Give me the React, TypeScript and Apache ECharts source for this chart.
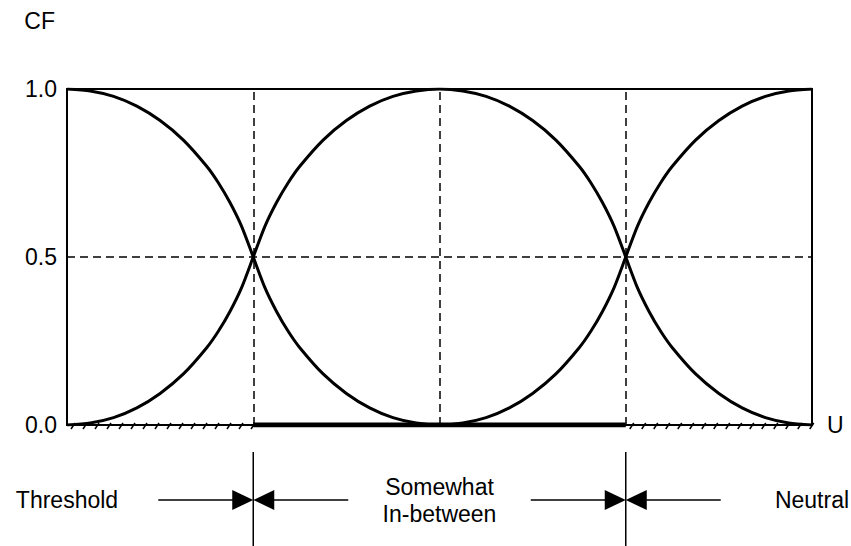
import React, { useEffect, useRef } from "react";
import * as echarts from "echarts";

// U positions (x axis, 0..4)
const uValues = [
  0, 0.125, 0.25, 0.375, 0.5, 0.625, 0.75, 0.8125, 0.875, 0.9375, 1,
  1.0625, 1.125, 1.1875, 1.25, 1.375, 1.5, 1.625, 1.75, 1.875, 2,
  2.125, 2.25, 2.375, 2.5, 2.625, 2.75, 2.8125, 2.875, 2.9375, 3,
  3.0625, 3.125, 3.1875, 3.25, 3.375, 3.5, 3.625, 3.75, 3.875, 4,
];
// CF curve starting at 1.0 (dips to 0 at the centre, rises back to 1.0)
const cfCurveA = [
  1, 0.994, 0.978, 0.949, 0.906, 0.848, 0.77, 0.721, 0.662, 0.591, 0.5,
  0.409, 0.338, 0.279, 0.23, 0.152, 0.094, 0.051, 0.022, 0.006, 0,
  0.006, 0.022, 0.051, 0.094, 0.152, 0.23, 0.279, 0.338, 0.409, 0.5,
  0.591, 0.662, 0.721, 0.77, 0.848, 0.906, 0.949, 0.978, 0.994, 1,
];
// CF curve starting at 0.0 (peaks at 1.0 at the centre)
const cfCurveB = [
  0, 0.006, 0.022, 0.051, 0.094, 0.152, 0.23, 0.279, 0.338, 0.409, 0.5,
  0.591, 0.662, 0.721, 0.77, 0.848, 0.906, 0.949, 0.978, 0.994, 1,
  0.994, 0.978, 0.949, 0.906, 0.848, 0.77, 0.721, 0.662, 0.591, 0.5,
  0.409, 0.338, 0.279, 0.23, 0.152, 0.094, 0.051, 0.022, 0.006, 0,
];
const yTicks = [0, 0.5, 1];
const dashedY = [0.5];
const dashedX = [1, 2, 3];
const neutralZone = [1, 3]; // thick bar on U axis
const hatchRanges = [
  [0, 1],
  [3, 4],
];
const zoneLabels = [
  { u: 0, text: "Threshold" },
  { u: 2, text: "Somewhat\nIn-between" },
  { u: 4, text: "Neutral" },
];
const boundaries = [1, 3];

const FONT = "'Liberation Sans', Arial, sans-serif";
const FS = 23;

export default function App() {
  const ref = useRef<HTMLDivElement>(null);
  useEffect(() => {
    if (!ref.current) return;
    const chart = echarts.init(ref.current, null, { renderer: "svg" });
    const option: any = {
      animation: false,
      backgroundColor: "#fff",
      grid: {
        left: 67,
        right: 39,
        top: 89,
        bottom: 121,
        show: true,
        borderColor: "#000",
        borderWidth: 2,
        backgroundColor: "transparent",
      },
      xAxis: {
        type: "value",
        min: 0,
        max: 4,
        interval: 1,
        name: "U",
        nameLocation: "end",
        nameGap: 15,
        nameTextStyle: { fontFamily: FONT, fontSize: FS, color: "#000", verticalAlign: "middle", padding: [0, 0, 20, 0] },
        axisLine: { show: true, lineStyle: { color: "#000", width: 2 } },
        axisTick: { show: false },
        axisLabel: { show: false },
        splitLine: { show: false },
      },
      yAxis: {
        type: "value",
        min: 0,
        max: 1,
        interval: 0.5,
        name: "CF",
        nameLocation: "end",
        nameGap: 68,
        nameTextStyle: { fontFamily: FONT, fontSize: FS, color: "#000", align: "right", verticalAlign: "middle", padding: [0, 12, 0, 0] },
        axisLine: { show: true, lineStyle: { color: "#000", width: 2 } },
        axisTick: { show: false },
        axisLabel: {
          fontFamily: FONT,
          fontSize: FS,
          color: "#000",
          margin: 10,
          formatter: (v: number) => (yTicks.includes(v) ? v.toFixed(1) : ""),
        },
        splitLine: { show: false },
      },
      series: [
        {
          type: "line",
          data: [],
          silent: true,
          markLine: {
            silent: true,
            symbol: "none",
            label: { show: false },
            lineStyle: { color: "#000", type: [8, 5], width: 1.5 },
            data: [
              ...dashedY.map((v) => ({ yAxis: v })),
              ...dashedX.map((v) => ({ xAxis: v })),
            ],
          },
        },
        {
          type: "custom",
          silent: true,
          data: hatchRanges,
          renderItem: (params: any, api: any) => {
            const s = api.coord([api.value(0), 0]);
            const e = api.coord([api.value(1), 0]);
            const children: any[] = [];
            for (let x = s[0] + 6; x <= e[0] + 1; x += 12) {
              children.push({
                type: "line",
                shape: { x1: x + 2, y1: s[1] - 2, x2: x - 2, y2: s[1] + 4 },
                style: { stroke: "#000", lineWidth: 1.5 },
              });
            }
            return { type: "group", children };
          },
        },
        {
          type: "line",
          silent: true,
          symbol: "none",
          data: neutralZone.map((u) => [u, 0]),
          lineStyle: { color: "#000", width: 5 },
        },
        {
          type: "line",
          silent: true,
          symbol: "none",
          smooth: 0.25,
          data: uValues.map((u, i) => [u, cfCurveA[i]]),
          lineStyle: { color: "#000", width: 3 },
        },
        {
          type: "line",
          silent: true,
          symbol: "none",
          smooth: 0.25,
          data: uValues.map((u, i) => [u, cfCurveB[i]]),
          lineStyle: { color: "#000", width: 3 },
        },
      ],
    };
    chart.setOption(option);

    // annotations below the axis, positioned through the axis scale
    const yArrow = 500;
    const graphic: any[] = [];
    boundaries.forEach((u) => {
      const x = chart.convertToPixel({ xAxisIndex: 0 }, u) as number;
      graphic.push(
        { type: "line", shape: { x1: x, y1: 452, x2: x, y2: 546 }, style: { stroke: "#000", lineWidth: 1.5 } },
        { type: "line", shape: { x1: x - 95, y1: yArrow, x2: x - 20, y2: yArrow }, style: { stroke: "#000", lineWidth: 1.5 } },
        { type: "line", shape: { x1: x + 20, y1: yArrow, x2: x + 95, y2: yArrow }, style: { stroke: "#000", lineWidth: 1.5 } },
        { type: "polygon", shape: { points: [[x - 21, yArrow - 10], [x, yArrow], [x - 21, yArrow + 10]] }, style: { fill: "#000" } },
        { type: "polygon", shape: { points: [[x + 21, yArrow - 10], [x, yArrow], [x + 21, yArrow + 10]] }, style: { fill: "#000" } }
      );
    });
    zoneLabels.forEach((l) => {
      const x = chart.convertToPixel({ xAxisIndex: 0 }, l.u) as number;
      graphic.push({
        type: "text",
        x,
        y: yArrow,
        style: {
          text: l.text,
          fontFamily: FONT,
          fontSize: FS,
          lineHeight: 27,
          fill: "#000",
          align: "center",
          verticalAlign: "middle",
        },
      });
    });
    chart.setOption({ graphic });

    return () => chart.dispose();
  }, []);
  return (
    <div
      ref={ref}
      style={{ position: "fixed", left: 0, top: 0, width: 851, height: 546 }}
    />
  );
}
